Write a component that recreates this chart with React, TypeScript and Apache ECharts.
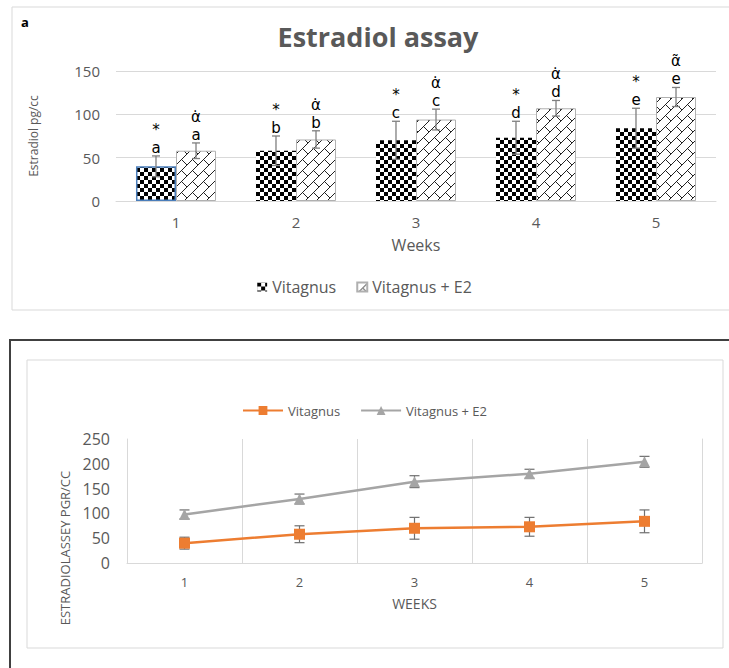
import React, { useEffect, useRef } from "react";
import * as echarts from "echarts";

const weeks = ["1", "2", "3", "4", "5"];
const vitagnus = [40, 58, 70, 73, 84];
const vitagnusErr = [12, 17, 22, 19, 23];
const vitagnusE2 = [58, 71, 94, 107, 120];
const vitagnusE2Err = [9, 10, 12, 9, 11];
const letters = ["a", "b", "c", "d", "e"];
const vitSymbols = ["*", "*", "*", "*", "*"];
const e2Symbols = ["α̇", "α̇", "α̇", "α̇", "α̃"];
const barTicks = { min: 0, max: 150, interval: 50 };
const lineTicks = { min: 0, max: 250, interval: 50 };

const FONT = "'Open Sans', sans-serif";
const LABEL_FONT = "'DejaVu Sans', sans-serif";
const GRAY_TEXT = "#595959";
const GRID_LINE = "#d9d9d9";

function checker(): HTMLCanvasElement {
  const c = document.createElement("canvas");
  c.width = 8;
  c.height = 8;
  const g = c.getContext("2d")!;
  g.fillStyle = "#fff";
  g.fillRect(0, 0, 8, 8);
  g.fillStyle = "#000";
  g.fillRect(0, 0, 4, 4);
  g.fillRect(4, 4, 4, 4);
  return c;
}

function brick(): HTMLCanvasElement {
  const s = 11;
  const c = document.createElement("canvas");
  c.width = s;
  c.height = s;
  const g = c.getContext("2d")!;
  g.fillStyle = "#fff";
  g.fillRect(0, 0, s, s);
  g.strokeStyle = "#222";
  g.lineWidth = 1;
  g.beginPath();
  g.moveTo(-1, s + 1);
  g.lineTo(s + 1, -1);
  g.moveTo(s / 2, s / 2);
  g.lineTo(s + 1, s + 1);
  g.moveTo(-1, -1);
  g.lineTo(0, 0);
  g.stroke();
  return c;
}

function barErrorSeries(
  name: string,
  values: number[],
  errs: number[],
  symbols: string[],
  side: number
) {
  return {
    type: "custom",
    name: name + " err",
    z: 5,
    silent: true,
    data: values.map((v, i) => [i, v, errs[i]]),
    renderItem: (params: any, api: any) => {
      const i = api.value(0);
      const v = api.value(1);
      const e = api.value(2);
      const band = api.size([1, 0])[0];
      const barW = (band * (1 - 0.333)) / 2;
      const cx = api.coord([i, v])[0] + (side * barW) / 2;
      const top = api.coord([i, v + e])[1];
      const bot = api.coord([i, v - e])[1];
      const cap = 4;
      const ls = { stroke: "#7f7f7f", lineWidth: 1.3 };
      const idx = params.dataIndex;
      return {
        type: "group",
        children: [
          { type: "line", shape: { x1: cx, y1: top, x2: cx, y2: bot }, style: ls },
          { type: "line", shape: { x1: cx - cap, y1: top, x2: cx + cap, y2: top }, style: ls },
          { type: "line", shape: { x1: cx - cap, y1: bot, x2: cx + cap, y2: bot }, style: ls },
          {
            type: "text",
            x: cx,
            y: top + 1,
            style: {
              text: symbols[idx] + "\n" + letters[idx],
              fill: "#000",
              fontSize: 15,
              lineHeight: 18,
              fontFamily: LABEL_FONT,
              align: "center",
              verticalAlign: "bottom",
            },
          },
        ],
      };
    },
  };
}

function lineErrorSeries(name: string, centers: number[], errs: number[]) {
  return {
    type: "custom",
    name: name + " err",
    z: 1,
    silent: true,
    data: centers.map((v, i) => [i, v, errs[i]]),
    renderItem: (params: any, api: any) => {
      const i = api.value(0);
      const v = api.value(1);
      const e = api.value(2);
      const cx = api.coord([i, v])[0];
      const top = api.coord([i, v + e])[1];
      const bot = api.coord([i, v - e])[1];
      const cap = 5;
      const ls = { stroke: "#6f6f6f", lineWidth: 1.2 };
      return {
        type: "group",
        children: [
          { type: "line", shape: { x1: cx, y1: top, x2: cx, y2: bot }, style: ls },
          { type: "line", shape: { x1: cx - cap, y1: top, x2: cx + cap, y2: top }, style: ls },
          { type: "line", shape: { x1: cx - cap, y1: bot, x2: cx + cap, y2: bot }, style: ls },
        ],
      };
    },
  };
}

export default function App() {
  const topRef = useRef<HTMLDivElement>(null);
  const botRef = useRef<HTMLDivElement>(null);

  useEffect(() => {
    const c1 = echarts.init(topRef.current!, undefined, { renderer: "svg" });
    const c2 = echarts.init(botRef.current!, undefined, { renderer: "svg" });

    const checkerPattern = { image: checker(), repeat: "repeat" };
    const brickPattern = { image: brick(), repeat: "repeat" };

    c1.setOption({
      animation: false,
      textStyle: { fontFamily: FONT },
      graphic: [
        {
          type: "rect",
          shape: { x: 12, y: 7, width: 740, height: 303 },
          style: { fill: "none", stroke: GRID_LINE, lineWidth: 1 },
          silent: true,
        },
        {
          type: "text",
          x: 25,
          y: 22,
          style: {
            text: "a",
            fill: "#000",
            fontSize: 13,
            fontWeight: "bold",
            fontFamily: FONT,
            align: "center",
            verticalAlign: "middle",
          },
        },
        {
          type: "text",
          x: 378,
          y: 36,
          style: {
            text: "Estradiol assay",
            fill: GRAY_TEXT,
            fontSize: 27,
            fontWeight: "bold",
            fontFamily: FONT,
            align: "center",
            verticalAlign: "middle",
          },
        },
      ],
      legend: {
        bottom: 20,
        left: "center",
        itemWidth: 10,
        itemHeight: 9,
        itemGap: 20,
        icon: "rect",
        textStyle: { color: GRAY_TEXT, fontSize: 16, fontFamily: FONT },
        data: ["Vitagnus", "Vitagnus + E2"],
      },
      grid: { left: 116, right: 13, top: 71, bottom: 320 - 201 },
      xAxis: {
        type: "category",
        data: weeks,
        name: "Weeks",
        nameLocation: "middle",
        nameGap: 36,
        nameTextStyle: { color: GRAY_TEXT, fontSize: 16 },
        axisLine: { lineStyle: { color: GRID_LINE } },
        axisTick: { show: false },
        axisLabel: { color: GRAY_TEXT, fontSize: 15, margin: 13 },
      },
      yAxis: {
        type: "value",
        ...barTicks,
        name: "Estradiol pg/cc",
        nameLocation: "middle",
        nameGap: 77,
        nameTextStyle: { color: GRAY_TEXT, fontSize: 12 },
        axisLine: { show: false },
        axisTick: { show: false },
        axisLabel: { color: GRAY_TEXT, fontSize: 15, margin: 16 },
        splitLine: { lineStyle: { color: GRID_LINE } },
      },
      series: [
        {
          type: "bar",
          name: "Vitagnus",
          barGap: "0%",
          barCategoryGap: "33.3%",
          itemStyle: { color: checkerPattern },
          data: vitagnus.map((v, i) =>
            i === 0
              ? { value: v, itemStyle: { borderColor: "#4a7ebb", borderWidth: 1.5 } }
              : v
          ),
        },
        {
          type: "bar",
          name: "Vitagnus + E2",
          itemStyle: { color: brickPattern, borderColor: "#b0b0b0", borderWidth: 1 },
          data: vitagnusE2,
        },
        barErrorSeries("Vitagnus", vitagnus, vitagnusErr, vitSymbols, -1),
        barErrorSeries("Vitagnus + E2", vitagnusE2, vitagnusE2Err, e2Symbols, 1),
      ],
    });

    const stackedE2 = vitagnusE2.map((v, i) => v + vitagnus[i]);

    c2.setOption({
      animation: false,
      textStyle: { fontFamily: FONT },
      graphic: [
        {
          type: "rect",
          shape: { x: 10, y: 20, width: 740, height: 340 },
          style: { fill: "none", stroke: "#404040", lineWidth: 2 },
          silent: true,
        },
        {
          type: "rect",
          shape: { x: 27, y: 40, width: 696, height: 288 },
          style: { fill: "none", stroke: GRID_LINE, lineWidth: 1 },
          silent: true,
        },
        {
          type: "text",
          x: 65,
          y: 228,
          rotation: Math.PI / 2,
          style: {
            text: "ESTRADIOLASSEY PGR/CC",
            fill: GRAY_TEXT,
            fontSize: 13,
            fontFamily: FONT,
            align: "center",
            verticalAlign: "middle",
          },
        },
      ],
      legend: {
        top: 79,
        left: "center",
        itemWidth: 40,
        itemHeight: 11,
        itemGap: 20,
        textStyle: { color: GRAY_TEXT, fontSize: 13, fontFamily: FONT },
        data: ["Vitagnus", "Vitagnus + E2"],
      },
      grid: { left: 127, right: 27, top: 119, bottom: 348 - 243 },
      xAxis: {
        type: "category",
        data: weeks,
        name: "WEEKS",
        nameLocation: "middle",
        nameGap: 33,
        nameTextStyle: { color: GRAY_TEXT, fontSize: 14 },
        axisLine: { lineStyle: { color: GRID_LINE } },
        axisTick: { show: false },
        axisLabel: { color: GRAY_TEXT, fontSize: 13, margin: 12 },
        splitLine: { show: true, lineStyle: { color: GRID_LINE } },
      },
      yAxis: [
        {
          type: "value",
          ...lineTicks,
          axisLine: { show: true, lineStyle: { color: GRID_LINE } },
          axisTick: { show: false },
          axisLabel: { color: GRAY_TEXT, fontSize: 16, margin: 17 },
          splitLine: { show: false },
        },
        {
          type: "value",
          position: "right",
          ...lineTicks,
          axisLine: { show: true, lineStyle: { color: GRID_LINE } },
          axisTick: { show: false },
          axisLabel: { show: false },
          splitLine: { show: false },
        },
      ],
      series: [
        lineErrorSeries("Vitagnus", vitagnus, vitagnusErr),
        lineErrorSeries("Vitagnus + E2", stackedE2, vitagnusE2Err),
        {
          type: "line",
          name: "Vitagnus",
          stack: "total",
          z: 3,
          data: vitagnus,
          symbol: "rect",
          symbolSize: 11,
          lineStyle: { color: "#ED7D31", width: 2.5 },
          itemStyle: { color: "#ED7D31" },
        },
        {
          type: "line",
          name: "Vitagnus + E2",
          stack: "total",
          z: 3,
          data: vitagnusE2,
          symbol: "triangle",
          symbolSize: 11,
          lineStyle: { color: "#A5A5A5", width: 2.5 },
          itemStyle: { color: "#A5A5A5" },
        },
      ],
    });

    return () => {
      c1.dispose();
      c2.dispose();
    };
  }, []);

  return (
    <div style={{ position: "absolute", left: 0, top: 0, width: 729, height: 668, background: "#fff", overflow: "hidden" }}>
      <div ref={topRef} style={{ position: "absolute", left: 0, top: 0, width: 729, height: 320 }} />
      <div ref={botRef} style={{ position: "absolute", left: 0, top: 320, width: 729, height: 348 }} />
    </div>
  );
}
